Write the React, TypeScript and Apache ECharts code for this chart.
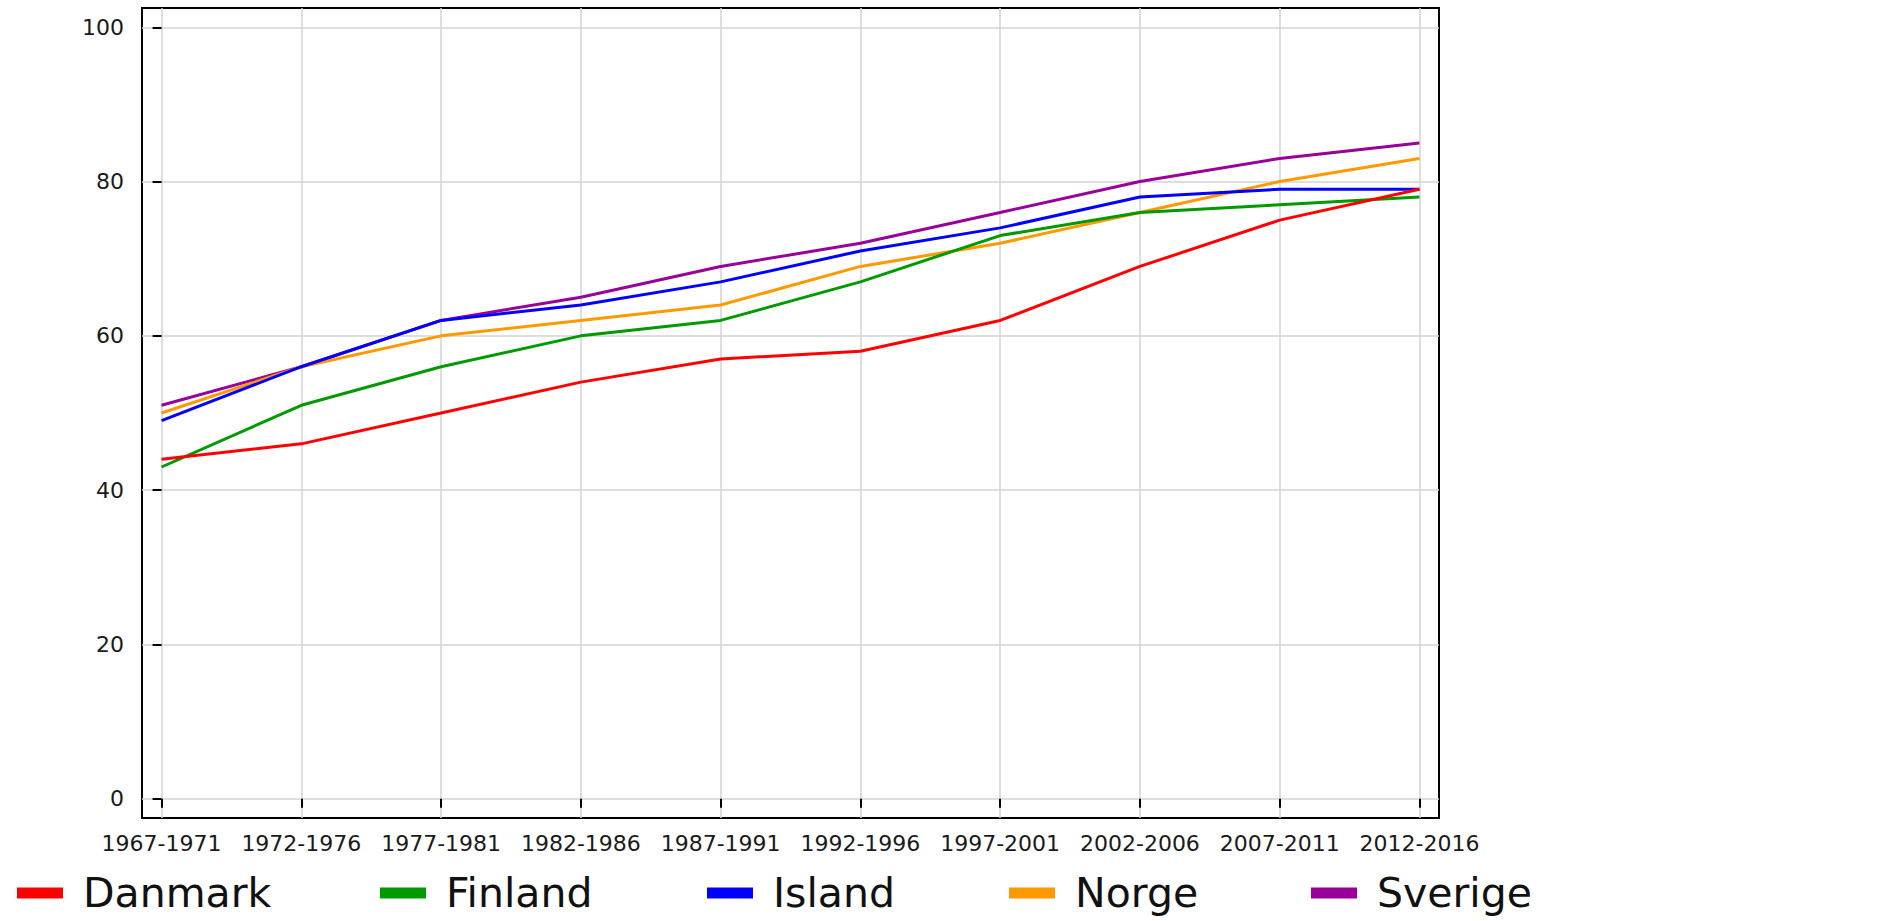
import React, { useEffect, useRef } from "react";
import * as echarts from "echarts";

const categories = [
  "1967-1971",
  "1972-1976",
  "1977-1981",
  "1982-1986",
  "1987-1991",
  "1992-1996",
  "1997-2001",
  "2002-2006",
  "2007-2011",
  "2012-2016",
];

const danmark = [44, 46, 50, 54, 57, 58, 62, 69, 75, 79];
const finland = [43, 51, 56, 60, 62, 67, 73, 76, 77, 78];
const island = [49, 56, 62, 64, 67, 71, 74, 78, 79, 79];
const norge = [50, 56, 60, 62, 64, 69, 72, 76, 80, 83];
const sverige = [51, 56, 62, 65, 69, 72, 76, 80, 83, 85];

const yTicks = [0, 20, 40, 60, 80, 100];
const xTicks = categories.map((_, i) => i);

const seriesDefs = [
  { name: "Danmark", values: danmark, color: "#FF0000", legendLeft: 17 },
  { name: "Finland", values: finland, color: "#009900", legendLeft: 380 },
  { name: "Island", values: island, color: "#0000FF", legendLeft: 707 },
  { name: "Norge", values: norge, color: "#FF9900", legendLeft: 1009 },
  { name: "Sverige", values: sverige, color: "#990099", legendLeft: 1311 },
];

const FONT = "DejaVu Sans";

export default function App() {
  const ref = useRef<HTMLDivElement>(null);

  useEffect(() => {
    if (!ref.current) return;
    const chart = echarts.init(ref.current, null, { renderer: "svg" });

    const series = seriesDefs
      .slice()
      .reverse()
      .map((s) => ({
        name: s.name,
        type: "line",
        data: s.values.map((v, i) => [i, v]),
        showSymbol: false,
        symbol: "none",
        lineStyle: { color: s.color, width: 3 },
        itemStyle: { color: s.color },
      }));

    const legends = seriesDefs.map((s) => ({
      data: [s.name],
      left: s.legendLeft,
      top: 870,
      padding: 0,
      icon: "rect",
      itemWidth: 46,
      itemHeight: 11,
      selectedMode: false,
      textStyle: {
        fontFamily: FONT,
        fontSize: 41,
        color: "#111",
        padding: [0, 0, 0, 15],
        lineHeight: 46,
      },
    }));

    chart.setOption({
      animation: false,
      backgroundColor: "#ffffff",
      grid: {
        left: 142,
        right: 457,
        top: 8,
        bottom: 103,
        show: true,
        borderColor: "#000",
        borderWidth: 2,
        backgroundColor: "transparent",
      },
      legend: legends,
      xAxis: {
        type: "value",
        min: -0.14,
        max: 9.14,
        axisLine: { show: false },
        axisTick: {
          show: true,
          length: 9,
          customValues: xTicks,
          lineStyle: { color: "#000", width: 2 },
        },
        axisLabel: {
          customValues: xTicks,
          formatter: (v: number) => categories[Math.round(v)] ?? "",
          fontFamily: FONT,
          fontSize: 22,
          color: "#1a1a1a",
          margin: 14,
        },
        splitLine: { show: true, lineStyle: { color: "#d3d3d3", width: 1.5 } },
      },
      yAxis: {
        type: "value",
        min: -2.5,
        max: 102.5,
        axisLine: { show: false },
        axisTick: {
          show: true,
          length: 9,
          customValues: yTicks,
          lineStyle: { color: "#000", width: 2 },
        },
        axisLabel: {
          customValues: yTicks,
          fontFamily: FONT,
          fontSize: 22,
          color: "#1a1a1a",
          margin: 18,
        },
        splitLine: { show: true, lineStyle: { color: "#d3d3d3", width: 1.5 } },
      },
      series,
    });

    return () => chart.dispose();
  }, []);

  return (
    <div
      ref={ref}
      style={{ position: "fixed", left: 0, top: 0, width: 1896, height: 921 }}
    />
  );
}
